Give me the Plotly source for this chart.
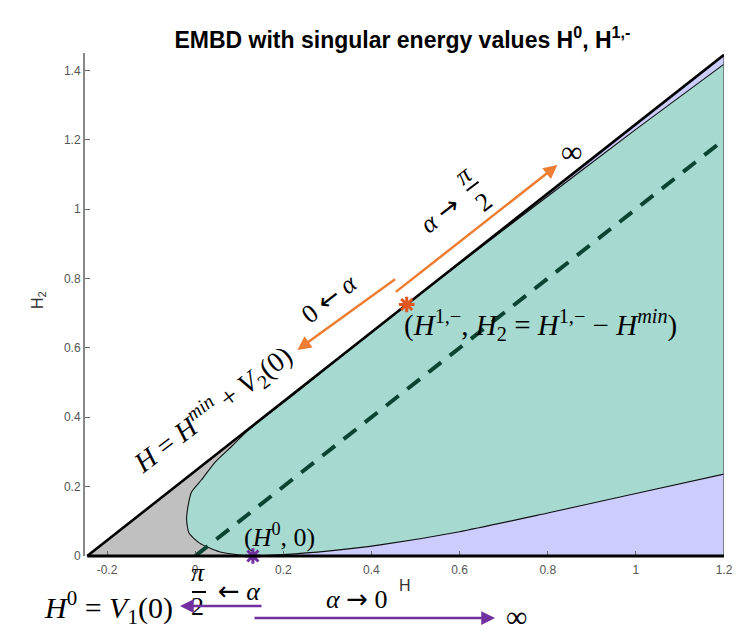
import plotly.graph_objects as go

# ---------------- data ----------------
H_MIN = -0.245          # left corner of the admissible region
H_MAX = 1.2             # right edge of the drawn region
H0 = 0.131              # singular value H^0
H1M = 0.48              # singular value H^{1,-}
H_JOIN = 0.30           # where the teal boundary meets the upper line

# teal region boundary (upper branch, from the tip to the right edge)
upper_H = [-0.0195, -0.016, -0.008, 0.014, 0.045, 0.082, 0.12, 0.169, 0.22, 0.30, 0.48, 0.60, 0.80, 1.00, 1.20]
upper_H2 = [0.105, 0.145, 0.185, 0.219, 0.27, 0.315, 0.362, 0.411, 0.462, 0.543, 0.725, 0.843, 1.037, 1.230, 1.418]
# teal region boundary (lower branch, from the tip to the right edge)
lower_H = [-0.0195, -0.014, 0.010, 0.055, 0.100, 0.131, 0.200, 0.300, 0.420, 0.600, 0.800, 1.000, 1.200]
lower_H2 = [0.105, 0.066, 0.037, 0.012, 0.003, 0.0, 0.004, 0.014, 0.032, 0.070, 0.124, 0.180, 0.236]

# dashed diagonal H2 = H
diag_H = [0.0, 1.2]
diag_H2 = [0.0, 1.2]

x_ticks = [-0.2, 0, 0.2, 0.4, 0.6, 0.8, 1, 1.2]
x_tick_labels = ["-0.2", "0", "0.2", "0.4", "0.6", "0.8", "1", "1.2"]
y_ticks = [0, 0.2, 0.4, 0.6, 0.8, 1, 1.2, 1.4]
y_tick_labels = ["0", "0.2", "0.4", "0.6", "0.8", "1", "1.2", "1.4"]

X_RANGE = [-0.25, 1.2]
Y_RANGE = [0, 1.45]

# ---------------- colours ----------------
TEAL = "#a6d9cf"
GRAY = "#c0c0c0"
LAV = "#ccccff"
DGREEN = "#0b4432"
ORANGE = "#ed7d31"
STAR_OR = "#e2571e"
PURPLE = "#7030a0"
MATH_FONT = "Liberation Serif"
RARR = '<span style="font-family:DejaVu Sans">→</span>'
LARR = '<span style="font-family:DejaVu Sans">←</span>'

W, HGT = 748, 642
ML, MR, MT, MB = 85, 24, 53, 86
PW, PH = W - ML - MR, HGT - MT - MB

line_top = H_MAX - H_MIN  # H2 on the upper boundary line at H_MAX

fig = go.Figure()

# lavender background region under the line H2 = H - H_MIN
fig.add_trace(go.Scatter(x=[H_MIN, H_MAX, H_MAX, H_MIN], y=[0, 0, line_top, 0],
                         fill="toself", fillcolor=LAV, line=dict(width=0),
                         mode="lines", hoverinfo="skip"))

# gray region (teal drawn on top of it)
fig.add_trace(go.Scatter(x=[H_MIN, H_JOIN, H0, H_MIN], y=[0, H_JOIN - H_MIN, 0, 0],
                         fill="toself", fillcolor=GRAY, line=dict(width=0),
                         mode="lines", hoverinfo="skip"))

# teal region
teal_x = upper_H[::-1] + lower_H[1:]
teal_y = upper_H2[::-1] + lower_H2[1:]
fig.add_trace(go.Scatter(x=teal_x, y=teal_y, fill="toself", fillcolor=TEAL,
                         line=dict(width=0, shape="spline", smoothing=0.6),
                         mode="lines", hoverinfo="skip"))
# thin outline of the teal boundary
fig.add_trace(go.Scatter(x=teal_x, y=teal_y, mode="lines",
                         line=dict(color="#111111", width=1.1, shape="spline", smoothing=0.6),
                         hoverinfo="skip"))

# right edge
fig.add_trace(go.Scatter(x=[H_MAX, H_MAX], y=[0, line_top], mode="lines",
                         line=dict(color="#666666", width=1.5), hoverinfo="skip"))

# dashed diagonal
fig.add_trace(go.Scatter(x=diag_H, y=diag_H2, mode="lines",
                         line=dict(color=DGREEN, width=4, dash="16px,11px"), hoverinfo="skip"))

# upper boundary line H = H_min + V2(0)
fig.add_trace(go.Scatter(x=[H_MIN, H_MAX], y=[0, line_top], mode="lines",
                         line=dict(color="black", width=2.6), hoverinfo="skip"))

# singular points
fig.add_trace(go.Scatter(x=[H1M], y=[H1M - H_MIN], mode="markers", cliponaxis=False,
                         marker=dict(symbol="asterisk", size=13, line=dict(color=STAR_OR, width=3)),
                         hoverinfo="skip"))
fig.add_trace(go.Scatter(x=[H0], y=[0], mode="markers", cliponaxis=False,
                         marker=dict(symbol="asterisk", size=13, line=dict(color=PURPLE, width=3)),
                         hoverinfo="skip"))


def px2paper(px, py):
    return (px - ML) / PW, (HGT - MB - py) / PH


ann = []


def txt(x, y, text, size=24, angle=0, xanchor="center"):
    ann.append(dict(x=x, y=y, xref="x", yref="y", text=text, showarrow=False,
                    textangle=angle, xanchor=xanchor, yanchor="middle",
                    font=dict(family=MATH_FONT, size=size, color="black")))


def ptxt(px, py, text, size=24, family=MATH_FONT, color="black", angle=0):
    x, y = px2paper(px, py)
    ann.append(dict(x=x, y=y, xref="paper", yref="paper", text=text, showarrow=False,
                    textangle=angle, xanchor="center", yanchor="middle",
                    font=dict(family=family, size=size, color=color)))


def arrow(x0, y0, x1, y1, color):
    ann.append(dict(x=x1, y=y1, ax=x0, ay=y0, xref="x", yref="y", axref="x", ayref="y",
                    text="", showarrow=True, arrowhead=2, arrowsize=1.1, arrowwidth=2.5,
                    arrowcolor=color, standoff=0, startstandoff=0))


def parrow(px0, py0, px1, py1, color):
    x, y = px2paper(px1, py1)
    ann.append(dict(x=x, y=y, xref="paper", yref="paper", ax=px0 - px1, ay=py0 - py1,
                    text="", showarrow=True, arrowhead=2, arrowsize=1.1, arrowwidth=2.5,
                    arrowcolor=color, standoff=0, startstandoff=0))


txt(0.040, 0.421, "<i>H</i> = <i>H</i><sup><i>min</i></sup> + <i>V</i><sub>2</sub>(0)", size=28, angle=-37)
txt(0.305, 0.743, "0 " + LARR + " <i>α</i>", size=26, angle=-38)
txt(0.556, 0.985, "<i>α</i> " + RARR, size=26, angle=-38)
txt(0.632, 1.058, "<i>π</i><br>2", size=26, angle=-38)
txt(0.854, 1.165, "∞", size=30)
txt(0.470, 0.666,
    "(<i>H</i><sup>1,−</sup>, <i>H</i><sub>2</sub> = <i>H</i><sup>1,−</sup> − <i>H</i><sup><i>min</i></sup>)",
    size=29, xanchor="left")
txt(0.192, 0.058, "(<i>H</i><sup>0</sup>, 0)", size=26)

# texts below the axis (paper coordinates)
ptxt(198, 589, "<i>π</i><br>2", size=26)
ptxt(239, 591, LARR + " <i>α</i>", size=26)
ptxt(108, 607, "<i>H</i><sup>0</sup> = <i>V</i><sub>1</sub>(0)", size=30)
ptxt(356, 599, "<i>α</i> " + RARR + " 0", size=26)
ptxt(516, 616, "∞", size=30)
ptxt(405, 585, "H", size=16, family="Liberation Sans", color="#333333")
ptxt(38, 300, "H<sub>2</sub>", size=16, family="Liberation Sans", color="#333333", angle=-90)

arrow(0.457, 0.801, 0.232, 0.594, ORANGE)
arrow(0.452, 0.758, 0.822, 1.127, ORANGE)
parrow(263, 606, 180, 606, PURPLE)
parrow(253, 618, 495, 618, PURPLE)

bx0, by0 = px2paper(192, 592)
bx1, _ = px2paper(206, 592)
shapes = [
    # rotated fraction bar
    dict(type="line", xref="x", yref="y", x0=0.616, y0=1.053, x1=0.643, y1=1.079,
         line=dict(color="black", width=2)),
    # fraction bar below the axis
    dict(type="line", xref="paper", yref="paper", x0=bx0, y0=by0, x1=bx1, y1=by0,
         line=dict(color="black", width=2)),
    # bottom line H2 = 0
    dict(type="line", xref="x", yref="paper", x0=H_MIN, y0=0, x1=H_MAX, y1=0,
         line=dict(color="black", width=3)),
]

fig.update_layout(
    width=W, height=HGT,
    margin=dict(l=ML, r=MR, t=MT, b=MB),
    plot_bgcolor="white", paper_bgcolor="white",
    showlegend=False,
    title=dict(text="<b>EMBD with singular energy values H<sup>0</sup>, H<sup>1,-</sup></b>",
               x=0.538, xanchor="center", y=0.938, yanchor="middle",
               font=dict(family="Liberation Sans", size=23, color="black")),
    xaxis=dict(range=X_RANGE, tickvals=x_ticks, ticktext=x_tick_labels,
               ticks="inside", ticklen=5, tickcolor="#666666", showgrid=False, zeroline=False,
               showline=False, ticklabelstandoff=5,
               tickfont=dict(family="Liberation Sans", size=12, color="#555555")),
    yaxis=dict(range=Y_RANGE, tickvals=y_ticks, ticktext=y_tick_labels,
               ticks="inside", ticklen=5, tickcolor="#666666", showgrid=False, zeroline=False,
               showline=True, linecolor="#888888", linewidth=2,
               tickfont=dict(family="Liberation Sans", size=12, color="#555555")),
    annotations=ann,
    shapes=shapes,
)

fig.write_html("out.html")
